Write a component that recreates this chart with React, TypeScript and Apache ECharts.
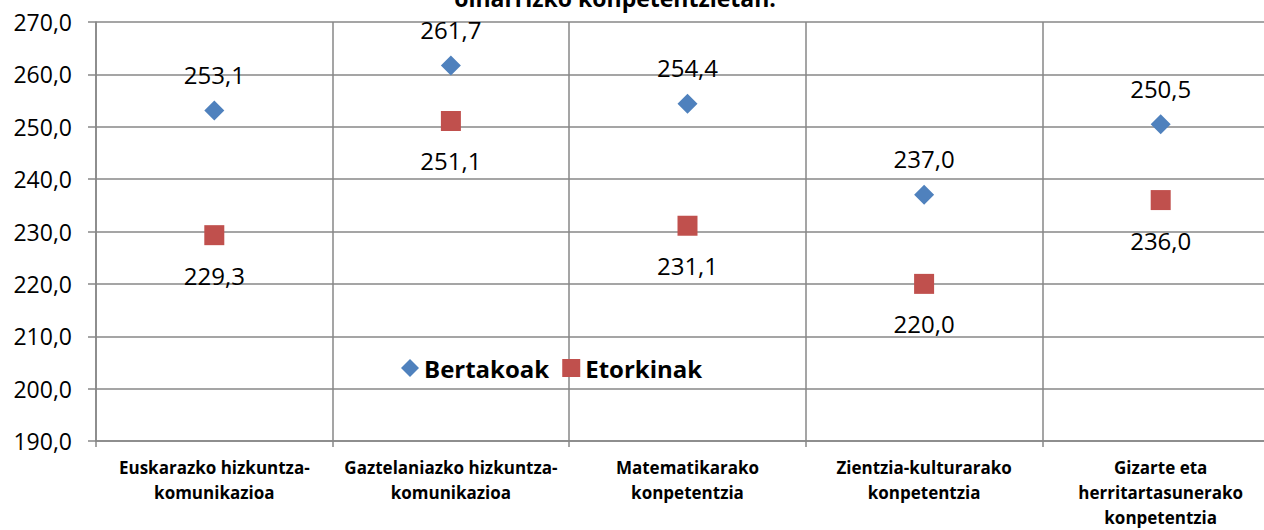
import React, { useEffect, useRef } from "react";
import * as echarts from "echarts";

const categories = [
  "Euskarazko hizkuntza-\nkomunikazioa",
  "Gaztelaniazko hizkuntza-\nkomunikazioa",
  "Matematikarako\nkonpetentzia",
  "Zientzia-kulturarako\nkonpetentzia",
  "Gizarte eta\nherritartasunerako\nkonpetentzia",
];
const bertakoak = [253.1, 261.7, 254.4, 237.0, 250.5];
const etorkinak = [229.3, 251.1, 231.1, 220.0, 236.0];
const yMin = 190;
const yMax = 270;
const yStep = 10;
const titleText = "oinarrizko konpetentzietan.";

const FONT = "'Open Sans', 'Liberation Sans', sans-serif";
const fmt = (v: number) => v.toFixed(1).replace(".", ",");

const CHART_W = 1279;
const CHART_H = 530;

export default function App() {
  const ref = useRef<HTMLDivElement>(null);
  useEffect(() => {
    if (!ref.current) return;
    const chart = echarts.init(ref.current, undefined, { renderer: "svg" });
    const gridColor = "#878787";
    chart.setOption({
      animation: false,
      backgroundColor: "#ffffff",
      textStyle: { fontFamily: FONT },
      graphic: [
        {
          type: "text",
          x: 615,
          y: 9,
          style: {
            text: titleText,
            font: `bold 23px ${FONT}`,
            fill: "#000",
            align: "center",
            verticalAlign: "bottom",
          },
        },
      ],
      legend: {
        left: 396,
        top: 351,
        itemWidth: 18,
        itemHeight: 18,
        itemGap: 13,
        textStyle: { fontSize: 24, fontWeight: "bold", color: "#000", fontFamily: FONT },
        data: [
          { name: "Bertakoak", icon: "diamond", itemStyle: { opacity: 1 } },
          { name: "Etorkinak", icon: "rect", itemStyle: { opacity: 1 } },
        ],
      },
      grid: { left: 96, right: 0, top: 22, bottom: 85, containLabel: false },
      xAxis: {
        type: "category",
        data: categories,
        boundaryGap: true,
        axisLine: { show: true, lineStyle: { color: gridColor, width: 1.5 } },
        axisTick: { show: true, length: 6, alignWithLabel: false, lineStyle: { color: gridColor, width: 1.5 } },
        splitLine: { show: true, lineStyle: { color: gridColor, width: 1.5 } },
        axisLabel: {
          interval: 0,
          margin: 14,
          color: "#000",
          fontSize: 17,
          fontWeight: "bold",
          lineHeight: 25,
          fontFamily: FONT,
        },
      },
      yAxis: {
        type: "value",
        min: yMin,
        max: yMax,
        interval: yStep,
        axisLine: { show: true, lineStyle: { color: gridColor, width: 1.5 } },
        axisTick: { show: true, length: 8, lineStyle: { color: gridColor, width: 1.5 } },
        splitLine: { show: true, lineStyle: { color: gridColor, width: 1.5 } },
        axisLabel: {
          margin: 24,
          color: "#000",
          fontSize: 23,
          fontFamily: FONT,
          formatter: (v: number) => fmt(v),
        },
      },
      series: [
        {
          name: "Bertakoak",
          type: "scatter",
          symbol: "diamond",
          symbolSize: 20,
          itemStyle: { color: "#4F81BD", opacity: 1 },
          data: bertakoak,
          label: {
            show: true,
            position: "top",
            distance: 14,
            color: "#000",
            fontSize: 24,
            fontFamily: FONT,
            formatter: (p: any) => fmt(p.value),
          },
        },
        {
          name: "Etorkinak",
          type: "scatter",
          symbol: "rect",
          symbolSize: 20,
          itemStyle: { color: "#C0504D", opacity: 1 },
          data: etorkinak,
          label: {
            show: true,
            position: "bottom",
            distance: 18,
            color: "#000",
            fontSize: 24,
            fontFamily: FONT,
            formatter: (p: any) => fmt(p.value),
          },
        },
      ],
    });
    return () => chart.dispose();
  }, []);
  return (
    <div
      style={{ position: "fixed", left: 0, top: 0, width: 1264, height: 530, overflow: "hidden", background: "#fff" }}
    >
      <div ref={ref} style={{ width: CHART_W, height: CHART_H }} />
    </div>
  );
}
